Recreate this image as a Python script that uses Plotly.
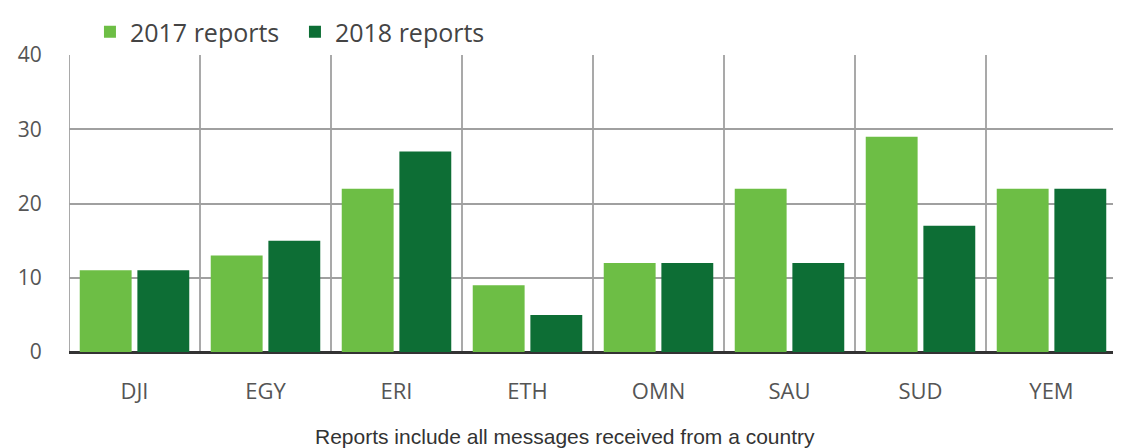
import plotly.graph_objects as go

categories = ["DJI", "EGY", "ERI", "ETH", "OMN", "SAU", "SUD", "YEM"]
reports_2017 = [11, 13, 22, 9, 12, 22, 29, 22]
reports_2018 = [11, 15, 27, 5, 12, 12, 17, 22]
series_names = ["2017 reports", "2018 reports"]
y_ticks = [0, 10, 20, 30, 40]
caption = "Reports include all messages received from a country"

LIGHT = "#6dbe45"
DARK = "#0d6e35"
FONT = "Open Sans"

fig = go.Figure()
fig.add_trace(go.Bar(x=categories, y=reports_2017, name=series_names[0],
                     marker=dict(color=LIGHT, line=dict(width=0))))
fig.add_trace(go.Bar(x=categories, y=reports_2018, name=series_names[1],
                     marker=dict(color=DARK, line=dict(width=0))))

shapes = []
for i in range(len(categories) + 1):
    shapes.append(dict(type="line", xref="x", yref="paper", x0=i - 0.5, x1=i - 0.5,
                       y0=0, y1=1, line=dict(color="#8c8c8c", width=1.5), layer="below"))

fig.update_layout(
    width=1113, height=440,
    margin=dict(l=61, r=4, t=47, b=96, autoexpand=False),
    paper_bgcolor="white", plot_bgcolor="white",
    barmode="group", bargap=0.12, bargroupgap=0.1,
    font=dict(family=FONT, color="#555555", size=20),
    showlegend=True,
    legend=dict(orientation="h", x=0.02, xanchor="left", y=1.0, yanchor="bottom",
                font=dict(family=FONT, size=25, color="#444444"),
                itemwidth=30, entrywidth=160, tracegroupgap=0, bgcolor="rgba(0,0,0,0)"),
    shapes=shapes,
    annotations=[dict(text=caption, xref="paper", yref="paper", x=0.473, y=-0.286,
                      xanchor="center", yanchor="middle", showarrow=False,
                      font=dict(family="Liberation Sans", size=21, color="#333333"))],
)
fig.update_xaxes(type="category", range=[-0.5, len(categories) - 0.5], showgrid=False,
                 ticks="outside", ticklen=20, tickcolor="rgba(0,0,0,0)",
                 tickfont=dict(family=FONT, size=22, color="#555555"),
                 showline=False, zeroline=False, automargin=False)
fig.update_yaxes(range=[0, 40], tickvals=y_ticks, showgrid=True, gridcolor="#a0a0a0",
                 gridwidth=1.5, zeroline=True, zerolinecolor="#333333", zerolinewidth=2.5,
                 ticks="outside", ticklen=22, tickcolor="rgba(0,0,0,0)",
                 tickfont=dict(family=FONT, size=21, color="#555555"), showline=False,
                 automargin=False)

fig.write_html("out.html")
